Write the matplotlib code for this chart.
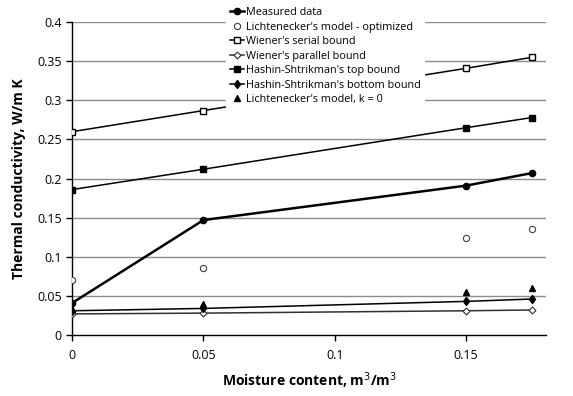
import matplotlib
matplotlib.use('Agg')
import matplotlib.pyplot as plt
import numpy as np

plt.rcParams['font.family'] = ['Open Sans', 'DejaVu Sans']

# moisture content, m3/m3
x = [0.0, 0.05, 0.15, 0.175]

# thermal conductivity, W/mK
measured      = [0.041, 0.147, 0.191, 0.207]
licht_opt     = [0.070, 0.086, 0.124, 0.135]
wiener_serial = [0.260, 0.287, 0.341, 0.355]
wiener_par    = [0.027, 0.028, 0.031, 0.032]
hs_top        = [0.186, 0.212, 0.265, 0.278]
hs_bottom     = [0.031, 0.034, 0.043, 0.046]
licht_k0      = [0.033, 0.040, 0.055, 0.060]

xticks = [0, 0.05, 0.1, 0.15]
yticks = [0, 0.05, 0.1, 0.15, 0.2, 0.25, 0.3, 0.35, 0.4]

fig = plt.figure(figsize=(5.73, 3.96), dpi=100)
ax = fig.add_axes([0.126, 0.154, 0.827, 0.79])

ax.plot(x, measured, '-o', color='black', lw=1.8, ms=4.5, label='Measured data', zorder=5)
ax.plot(x, licht_opt, 'o', color='#404040', mfc='white', mew=0.8, ms=4.5,
        label="Lichtenecker's model - optimized", zorder=4)
ax.plot(x, wiener_serial, '-s', color='black', lw=1.1, mfc='white', mew=1.0, ms=5,
        label="Wiener's serial bound", zorder=4)
ax.plot(x, wiener_par, '-D', color='#303030', lw=1.1, mfc='white', mew=0.8, ms=3.5,
        label="Wiener's parallel bound", zorder=3)
ax.plot(x, hs_top, '-s', color='black', lw=1.1, ms=5,
        label="Hashin-Shtrikman's top bound", zorder=4)
ax.plot(x, hs_bottom, '-d', color='black', lw=1.1, ms=4.5,
        label="Hashin-Shtrikman's bottom bound", zorder=4)
ax.plot(x, licht_k0, '^', color='black', ms=4.5,
        label="Lichtenecker's model, k = 0", zorder=4)

ax.set_xlim(0, 0.1805)
ax.set_ylim(0, 0.4)
ax.set_xticks(xticks)
ax.set_xticklabels(['0', '0.05', '0.1', '0.15'])
ax.set_yticks(yticks)
ax.set_yticklabels(['0', '0.05', '0.1', '0.15', '0.2', '0.25', '0.3', '0.35', '0.4'])
ax.tick_params(axis='both', direction='out', length=4, width=1, labelsize=9, colors='black')
ax.tick_params(axis='x', pad=6)
for yv in yticks[1:]:
    ax.axhline(yv, color='#8c8c8c', lw=1, zorder=1)
ax.spines['top'].set_visible(False)
ax.spines['right'].set_visible(False)
ax.spines['left'].set_linewidth(1)
ax.spines['bottom'].set_linewidth(1)

ax.set_xlabel('Moisture content, m$^3$/m$^3$', fontsize=10, fontweight='bold', labelpad=6)
ax.set_ylabel('Thermal conductivity, W/m K', fontsize=10, fontweight='bold', labelpad=8)

leg = ax.legend(loc='upper left', bbox_to_anchor=(0.395, 0.99), bbox_transform=fig.transFigure,
                frameon=True, fontsize=7.8, handlelength=1.3, handletextpad=0.2,
                labelspacing=0.32, borderpad=0.3, borderaxespad=0)
leg.get_frame().set_edgecolor('white')
leg.get_frame().set_facecolor('white')
leg.get_frame().set_alpha(1)
leg.set_zorder(10)

fig.savefig('out.png', dpi=100)
